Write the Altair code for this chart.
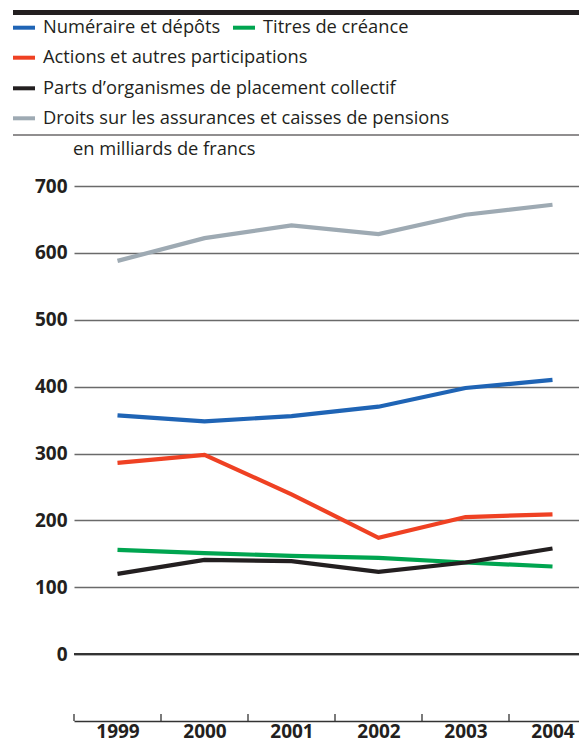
import altair as alt
import pandas as pd

# ---- data ----
years = [1999, 2000, 2001, 2002, 2003, 2004]
series_names = [
    "Numéraire et dépôts",
    "Titres de créance",
    "Actions et autres participations",
    "Parts d’organismes de placement collectif",
    "Droits sur les assurances et caisses de pensions",
]
numeraire = [357, 348, 356, 370, 398, 410]
titres = [156, 151, 147, 144, 137, 131]
actions = [286, 298, 239, 174, 205, 209]
parts = [120, 141, 139, 123, 137, 158]
droits = [588, 622, 641, 628, 657, 672]
series_values = [numeraire, titres, actions, parts, droits]
colors = ["#1f64b5", "#00a550", "#ef4123", "#231f20", "#9eaab3"]
y_tick_values = [0, 100, 200, 300, 400, 500, 600, 700]
unit_label = "en milliards de francs"

FONT = "Open Sans"
W, H = 505, 535
x_scale = alt.Scale(domain=[1998.5, 1998.5 + W / 87.0], nice=False, zero=False)
y_scale = alt.Scale(domain=[-100, 700], nice=False, zero=False)

x_axis = alt.Axis(values=years, format="d", title=None, grid=False,
                  ticks=False, tickSize=0, domain=True, domainColor="#333333",
                  domainWidth=1.5, labelFont=FONT, labelFontSize=19,
                  labelFontWeight="bold", labelColor="#231f20",
                  labelPadding=1)
y_axis = alt.Axis(values=y_tick_values, title=None, grid=True,
                  gridColor="#6a6a6a", gridWidth=1.3, domain=False,
                  ticks=False, tickSize=0, labelFont=FONT, labelFontSize=19,
                  labelFontWeight="bold", labelColor="#231f20",
                  labelPadding=7)

one = pd.DataFrame({"k": [0]})

# band boundaries for the x ticks (between years)
bounds = pd.DataFrame({"year": [y - 0.5 for y in years]})

layers = []

# zero line
zero_layer = alt.Chart(pd.DataFrame({"value": [0]})).mark_rule(
    color="#333333", strokeWidth=2.2).encode(y=alt.Y("value:Q", scale=y_scale, axis=y_axis))
layers.append(zero_layer)

# x ticks at the band boundaries, pointing up from the axis line
tick_layer = alt.Chart(bounds).mark_rule(color="#333333", strokeWidth=1.3).encode(
    x=alt.X("year:Q", scale=x_scale, axis=x_axis),
    y=alt.value(H), y2=alt.value(H - 7))
layers.append(tick_layer)

# series lines, drawn back to front
draw_order = [4, 0, 2, 1, 3]
for i in draw_order:
    df = pd.DataFrame({"year": years, "value": series_values[i]})
    layers.append(
        alt.Chart(df).mark_line(color=colors[i], strokeWidth=4.2).encode(
            x=alt.X("year:Q", scale=x_scale, axis=x_axis),
            y=alt.Y("value:Q", scale=y_scale, axis=y_axis),
        )
    )

# header rules
layers.append(alt.Chart(one).mark_rule(color="#231f20", strokeWidth=5).encode(
    x=alt.value(-61), x2=alt.value(W), y=alt.value(-173.5)))
layers.append(alt.Chart(one).mark_rule(color="#231f20", strokeWidth=1.2).encode(
    x=alt.value(-61), x2=alt.value(W), y=alt.value(-51)))

# custom legend
legend_pos = [(-61, -158.3), (159, -158.3), (-61, -128.3), (-61, -97.7), (-61, -67.7)]
for i, (lx, ly) in enumerate(legend_pos):
    layers.append(alt.Chart(one).mark_rule(color=colors[i], strokeWidth=4).encode(
        x=alt.value(lx), x2=alt.value(lx + 22), y=alt.value(ly)))
    ldf = pd.DataFrame({"label": [series_names[i]]})
    layers.append(alt.Chart(ldf).mark_text(
        align="left", baseline="middle", font=FONT, fontSize=18.3, color="#231f20").encode(
        x=alt.value(lx + 30), y=alt.value(ly + 0.5), text="label:N"))

udf = pd.DataFrame({"label": [unit_label]})
layers.append(alt.Chart(udf).mark_text(
    align="left", baseline="middle", font=FONT, fontSize=18.3, color="#231f20").encode(
    x=alt.value(-1), y=alt.value(-36), text="label:N"))

chart = alt.layer(*layers).properties(
    width=W, height=H,
    autosize=alt.AutoSizeParams(type="none"),
    padding={"left": 66, "top": 178, "right": 0, "bottom": 28},
    background="white",
).configure_view(stroke=None)

chart.save("out.html", embed_options={"renderer": "svg", "actions": False})
